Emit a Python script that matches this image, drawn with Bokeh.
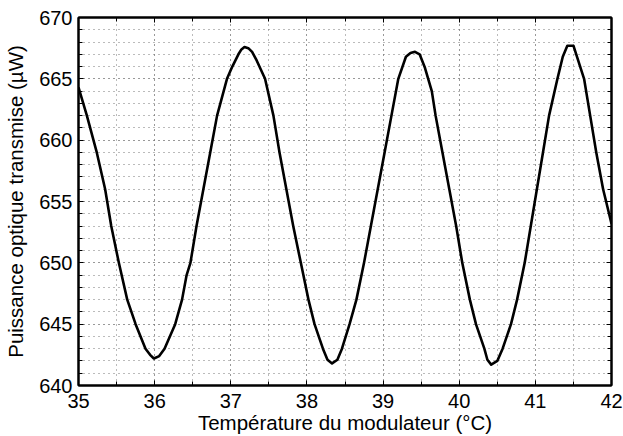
from bokeh.plotting import figure
from bokeh.models import Range1d, SingleIntervalTicker, LinearAxis, ColumnDataSource, CustomJSTickFormatter
from bokeh.embed import file_html
from bokeh.resources import INLINE

# Data
temperature = [
    35.00, 35.11, 35.24, 35.35, 35.43, 35.53, 35.64, 35.75, 35.88, 35.94, 35.99, 36.06,
    36.13, 36.27, 36.36, 36.42, 36.47, 36.55, 36.64, 36.73, 36.82, 36.95, 37.02, 37.10,
    37.14, 37.18, 37.23, 37.28, 37.34, 37.45, 37.56, 37.64, 37.73, 37.82, 37.92, 38.02,
    38.10, 38.21, 38.27, 38.33, 38.40, 38.46, 38.56, 38.65, 38.75, 38.84, 38.93, 39.02,
    39.11, 39.20, 39.30, 39.36, 39.42, 39.48, 39.55, 39.64, 39.69, 39.78, 39.87, 39.96,
    40.04, 40.14, 40.22, 40.33, 40.37, 40.42, 40.50, 40.57, 40.68, 40.76, 40.86, 40.94,
    41.02, 41.10, 41.18, 41.29, 41.36, 41.42, 41.50, 41.64, 41.72, 41.80, 41.89, 42.00,
]
power = [
    664.3, 662.0, 659.0, 656.0, 653.0, 650.0, 647.0, 645.0, 643.0, 642.5, 642.2, 642.4,
    643.0, 645.0, 647.0, 649.0, 650.0, 653.0, 656.0, 659.0, 662.0, 665.0, 666.0, 667.0,
    667.4, 667.6, 667.5, 667.2, 666.5, 665.0, 662.0, 659.0, 656.0, 653.0, 650.0, 647.0,
    645.0, 643.0, 642.1, 641.8, 642.1, 643.0, 645.0, 647.0, 650.0, 653.0, 656.0, 659.0,
    662.0, 665.0, 666.8, 667.1, 667.2, 667.0, 665.9, 664.0, 662.0, 659.0, 656.0, 653.0,
    650.0, 647.0, 645.0, 643.0, 642.1, 641.7, 642.0, 643.0, 645.0, 647.0, 650.0, 653.0,
    656.0, 659.0, 662.0, 665.0, 666.8, 667.7, 667.7, 665.0, 662.0, 659.0, 656.0, 653.2,
]

x_label = "Température du modulateur (°C)"
y_label = "Puissance optique transmise (µW)"

FONT = "Liberation Sans"

p = figure(
    width=623, height=436,
    x_range=Range1d(35, 42), y_range=Range1d(640, 670),
    output_backend="svg", toolbar_location=None,
    min_border_left=78, min_border_right=12, min_border_top=17, min_border_bottom=50,
    background_fill_color="white", border_fill_color="white",
)
p.outline_line_color = "black"
p.outline_line_width = 2

src = ColumnDataSource(dict(t=temperature, pw=power))
p.line("t", "pw", source=src, line_color="black", line_width=2.6, line_join="round")

xt = SingleIntervalTicker(interval=1, num_minor_ticks=2)
yt = SingleIntervalTicker(interval=5, num_minor_ticks=5)
p.xaxis.ticker = xt
p.yaxis.ticker = yt

for ax in (p.xaxis[0], p.yaxis[0]):
    ax.major_tick_in = 5
    ax.major_tick_out = 0
    ax.minor_tick_in = 4
    ax.minor_tick_out = 0
    ax.axis_line_width = 2
    ax.major_tick_line_width = 1
    ax.minor_tick_line_width = 1
    ax.major_label_text_font = FONT
    ax.major_label_text_font_size = "20px"
    ax.major_label_text_color = "black"
    ax.axis_label_text_font = FONT
    ax.axis_label_text_font_size = "20.5px"
    ax.axis_label_text_font_style = "normal"
    ax.axis_label_text_color = "black"

p.xaxis.axis_label = x_label
p.yaxis.axis_label = y_label
p.xaxis.major_label_standoff = 8
p.xaxis.axis_label_standoff = 0
p.yaxis.major_label_standoff = 6
p.yaxis.axis_label_standoff = 9

for loc, tk in (("right", yt), ("above", xt)):
    ax = LinearAxis(ticker=tk, formatter=CustomJSTickFormatter(code="return ''"))
    ax.major_label_standoff = 0
    ax.major_tick_in = 5
    ax.major_tick_out = 0
    ax.minor_tick_in = 4
    ax.minor_tick_out = 0
    ax.axis_line_width = 2
    p.add_layout(ax, loc)

for g in (p.xgrid[0], p.ygrid[0]):
    g.grid_line_color = "#777777"
    g.grid_line_dash = "1 4"
    g.grid_line_width = 1
    g.minor_grid_line_color = "#777777"
    g.minor_grid_line_dash = "1 4"
    g.minor_grid_line_width = 1

open("out.html", "w").write(file_html(p, INLINE))
